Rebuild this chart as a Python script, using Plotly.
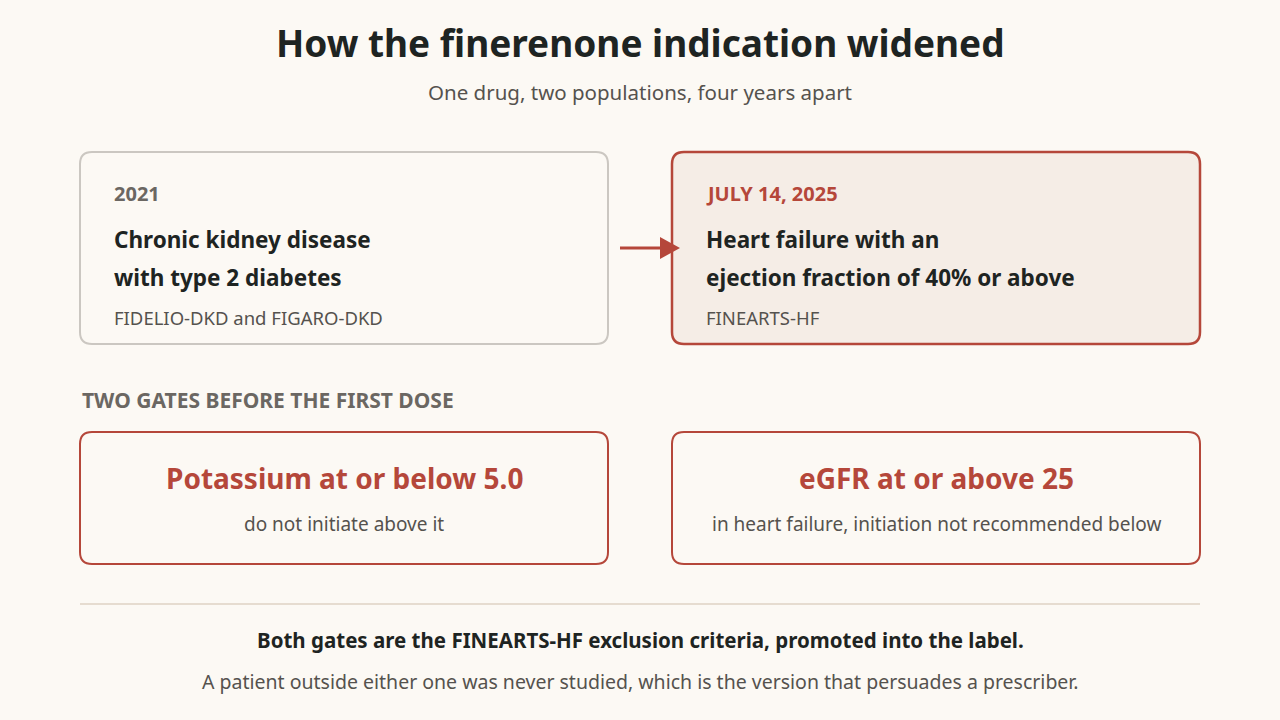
import plotly.graph_objects as go

title = "How the finerenone indication widened"
subtitle = "One drug, two populations, four years apart"
card_years = ["2021", "JULY 14, 2025"]
card_heads = [["Chronic kidney disease", "with type 2 diabetes"],
              ["Heart failure with an", "ejection fraction of 40% or above"]]
card_trials = ["FIDELIO-DKD and FIGARO-DKD", "FINEARTS-HF"]
section_label = "TWO GATES BEFORE THE FIRST DOSE"
gate_heads = ["Potassium at or below 5.0", "eGFR at or above 25"]
gate_subs = ["do not initiate above it", "in heart failure, initiation not recommended below"]
foot_bold = "Both gates are the FINEARTS-HF exclusion criteria, promoted into the label."
foot_text = "A patient outside either one was never studied, which is the version that persuades a prescriber."

BG = "#FCF9F4"; RED = "#B5473A"; DARK = "#1E2422"; GREY = "#6B6762"; MID = "#55524E"
F = "Noto Sans"

fig = go.Figure()
shapes = []; ann = []
def txt(x, y, t, size, color, bold=False, xa="left"):
    ann.append(dict(x=x, y=y, text=f"<b>{t}</b>" if bold else t, showarrow=False, xanchor=xa,
                    yanchor="middle", font=dict(family=F, size=size, color=color)))

def rrect(x0, y0, x1, y1, r=12):
    return (f"M {x0+r} {y0} L {x1-r} {y0} Q {x1} {y0} {x1} {y0+r} L {x1} {y1-r} Q {x1} {y1} {x1-r} {y1} "
            f"L {x0+r} {y1} Q {x0} {y1} {x0} {y1-r} L {x0} {y0+r} Q {x0} {y0} {x0+r} {y0} Z")

txt(640, 42, title, 37, DARK, True, "center")
txt(640, 92, subtitle, 20.5, MID, False, "center")

lefts = [80, 672]
for i, x0 in enumerate(lefts):
    shapes.append(dict(type="path", path=rrect(x0, 152, x0+528, 344), line=dict(color="#CBC7C1" if i == 0 else RED, width=2 if i == 0 else 2.5),
                       fillcolor=BG if i == 0 else "#F5EDE6", layer="below"))
    txt(x0+32, 193, card_years[i].replace("", " ").strip().replace("   ", "  ") if False else card_years[i], 20, GREY if i == 0 else RED, True)
    txt(x0+32, 239, card_heads[i][0], 22.5, DARK, True)
    txt(x0+32, 277, card_heads[i][1], 22.5, DARK, True)
    txt(x0+32, 317, card_trials[i], 18.5, MID)
shapes.append(dict(type="line", x0=620, x1=662, y0=248, y1=248, line=dict(color=RED, width=3)))
shapes.append(dict(type="path", path="M 660 237 L 680 248 L 660 259 Z", fillcolor=RED, line=dict(color=RED, width=0)))

txt(80, 400, section_label, 21, GREY, True)
for i, x0 in enumerate(lefts):
    shapes.append(dict(type="path", path=rrect(x0, 432, x0+528, 564), line=dict(color=RED, width=2), fillcolor=BG, layer="below"))
    txt(x0+264, 478, gate_heads[i], 28, RED, True, "center")
    txt(x0+264, 524, gate_subs[i], 19, MID, False, "center")

shapes.append(dict(type="line", x0=80, x1=1200, y0=604, y1=604, line=dict(color="#E6DCD0", width=2)))
txt(640, 640, foot_bold, 20.5, DARK, True, "center")
txt(640, 681, foot_text, 19.5, MID, False, "center")

fig.update_layout(width=1280, height=720, margin=dict(l=0, r=0, t=0, b=0), paper_bgcolor=BG, plot_bgcolor=BG,
                  xaxis=dict(range=[0, 1280], visible=False, fixedrange=True),
                  yaxis=dict(range=[720, 0], visible=False, fixedrange=True),
                  shapes=shapes, annotations=ann, showlegend=False)
fig.write_html("out.html", config={"displayModeBar": False},
               post_script="document.body.style.margin='0';document.body.style.overflow='hidden';document.body.style.background='#FCF9F4';")
